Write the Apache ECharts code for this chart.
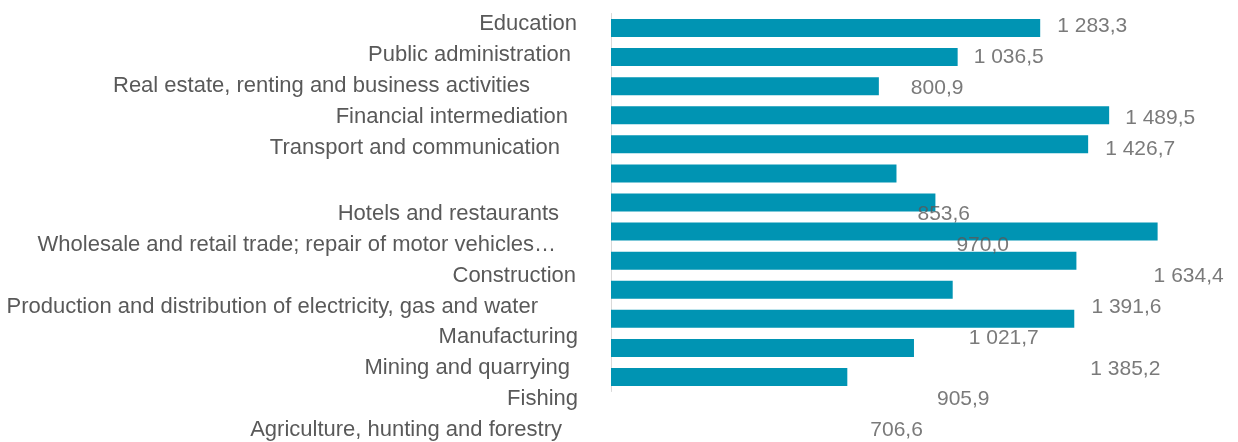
<!DOCTYPE html>
<html>
<head>
<meta charset="utf-8">
<script src="https://cdn.jsdelivr.net/npm/echarts@6/dist/echarts.min.js"></script>
<style>
  html, body { margin: 0; padding: 0; background: #ffffff; }
  #chart { width: 1238px; height: 442px; }
</style>
</head>
<body>
<div id="chart"></div>
<script>
// Average monthly wage by economic activity
const sectors = [
  'Education',
  'Public administration',
  'Real estate, renting and business activities',
  'Financial intermediation',
  'Transport and communication',
  'Hotels and restaurants',
  'Wholesale and retail trade; repair of motor vehicles…',
  'Construction',
  'Production and distribution of electricity, gas and water',
  'Manufacturing',
  'Mining and quarrying',
  'Fishing',
  'Agriculture, hunting and forestry'
];
const wages = [1283.3, 1036.5, 800.9, 1489.5, 1426.7, 853.6, 970.0, 1634.4, 1391.6, 1021.7, 1385.2, 905.9, 706.6];

// Text layer: one empty row is inserted after the fifth sector
const gapAfter = 5;
const textRows = sectors.slice(0, gapAfter).concat([''], sectors.slice(gapAfter));
const textRowOf = i => (i < gapAfter ? i : i + 1);

// Layout tweaks for the text layer (pixels)
const namePadRight = [1, 7, 48, 10, 18, 0, 19, 22, 2, 40, 0, 8, 0, 16];
const valueShiftX = [17, 16, 32, 16, 17, 21, 21, -4, 15, 16, 16, 23, 23];
const nameShiftY = row => (row < gapAfter ? -1 : 3.5);
const valueShiftY = row => (row < gapAfter ? 1 : 4);

const TEXT = '#595959';
const FONT = 'Liberation Sans';
const NAME_SIZE = 22;
const VALUE_SIZE = 21;

function fmt(v) {
  const [int, dec] = v.toFixed(1).split('.');
  return int.replace(/\B(?=(\d{3})+(?!\d))/g, ' ') + ',' + dec;
}

const rich = {};
namePadRight.forEach((p, i) => {
  const dy = nameShiftY(i);
  rich['r' + i] = {
    color: TEXT, fontFamily: FONT, fontSize: NAME_SIZE,
    padding: [Math.max(0, 2 * dy), p, Math.max(0, -2 * dy), 0]
  };
});

const chart = echarts.init(document.getElementById('chart'), null, { renderer: 'canvas' });
chart.setOption({
  animation: false,
  backgroundColor: '#ffffff',
  grid: [
    { left: 611, top: 13.5, width: 602, height: 378 },
    { left: 611, top: 9.5, width: 602, height: 434 }
  ],
  xAxis: [
    { gridIndex: 0, type: 'value', min: 0, max: 1800, show: false },
    { gridIndex: 1, type: 'value', min: 0, max: 1800, show: false }
  ],
  yAxis: [
    {
      gridIndex: 0, type: 'category', inverse: true, data: sectors,
      axisLine: { show: true, lineStyle: { color: '#d9d9d9', width: 1 } },
      axisTick: { show: false },
      axisLabel: { show: false },
      splitLine: { show: false }
    },
    {
      gridIndex: 1, type: 'category', inverse: true, data: textRows,
      axisLine: { show: false },
      axisTick: { show: false },
      splitLine: { show: false },
      axisLabel: {
        interval: 0,
        margin: 33,
        align: 'right',
        color: TEXT,
        fontFamily: FONT,
        fontSize: NAME_SIZE,
        formatter: (v, i) => (v ? '{r' + i + '|' + v + '}' : ''),
        rich: rich
      }
    }
  ],
  series: [
    {
      type: 'bar',
      xAxisIndex: 0,
      yAxisIndex: 0,
      data: wages,
      barWidth: 18,
      itemStyle: { color: '#0094B3' },
      silent: true
    },
    {
      type: 'scatter',
      xAxisIndex: 1,
      yAxisIndex: 1,
      symbolSize: 0,
      silent: true,
      data: wages.map((v, i) => ({
        value: [v, textRowOf(i)],
        label: { offset: [valueShiftX[i], valueShiftY(textRowOf(i))] }
      })),
      label: {
        show: true,
        position: 'right',
        distance: 0,
        color: TEXT,
        fontFamily: FONT,
        fontSize: VALUE_SIZE,
        formatter: p => fmt(p.value[0])
      }
    }
  ]
});
</script>
</body>
</html>
